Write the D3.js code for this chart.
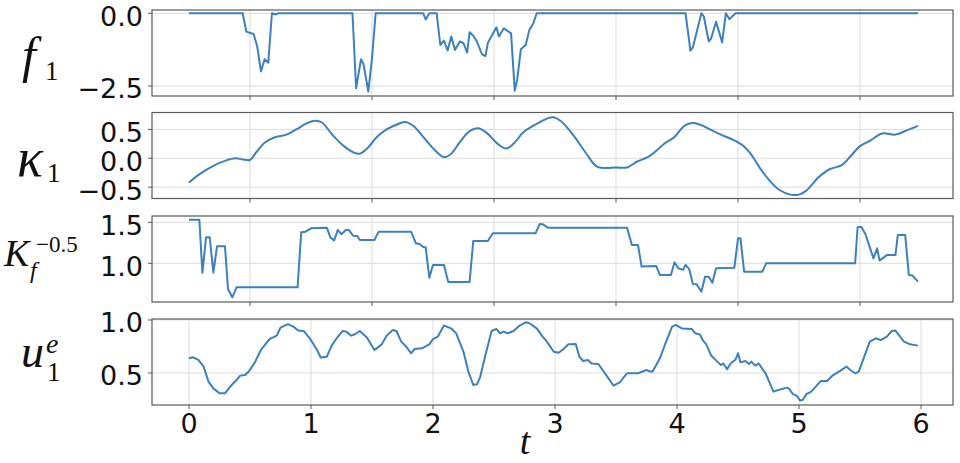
<!DOCTYPE html>
<html><head><meta charset="utf-8">
<script src="https://cdn.jsdelivr.net/npm/d3@7"></script>
<style>body{margin:0;background:#fff}svg{display:block}</style>
</head><body><svg id="c" width="960" height="463"></svg>
<script>
// ---- data (t, value) ----
const f1Data = [[0,0],[0.44,0],[0.47,-0.63],[0.53,-0.71],[0.56,-1.15],[0.59,-2.0],[0.62,-1.58],[0.65,-1.70],[0.68,0],[0.71,-0.04],[0.73,0],
 [1.34,0],[1.37,-2.58],[1.41,-1.58],[1.43,-1.74],[1.47,-2.69],[1.50,-1.55],[1.53,0],
 [1.92,0],[1.94,-0.21],[1.97,0],[2.03,0],[2.06,-1.09],[2.09,-0.94],[2.12,-1.28],[2.15,-0.80],[2.18,-1.26],[2.22,-0.97],[2.25,-1.03],[2.28,-1.35],[2.30,-0.65],[2.33,-0.77],[2.36,-0.97],[2.40,-1.40],[2.43,-1.47],[2.45,-1.01],[2.52,-0.48],[2.54,-0.80],[2.58,-0.52],[2.64,-0.69],[2.67,-2.66],[2.69,-2.29],[2.72,-1.24],[2.76,-1.09],[2.79,-0.57],[2.82,-0.37],[2.85,0],
 [4.07,0],[4.11,-1.28],[4.13,-1.17],[4.20,0],[4.22,-0.11],[4.26,-0.97],[4.28,-0.86],[4.32,-0.29],[4.37,-1.0],[4.40,0],[4.43,-0.2],[4.48,0],[5.975,0]];

const kappaData = [[0,-0.42],[0.09,-0.27],[0.20,-0.13],[0.30,-0.04],[0.38,0.0],[0.44,-0.02],[0.50,-0.03],[0.55,0.10],[0.62,0.27],[0.70,0.36],[0.80,0.41],[0.88,0.50],[0.96,0.60],[1.03,0.65],[1.09,0.62],[1.17,0.42],[1.27,0.21],[1.35,0.10],[1.40,0.08],[1.47,0.19],[1.54,0.37],[1.62,0.50],[1.70,0.58],[1.77,0.63],[1.84,0.56],[1.92,0.37],[2.02,0.13],[2.09,0.02],[2.15,0.08],[2.22,0.28],[2.30,0.47],[2.37,0.52],[2.44,0.44],[2.53,0.25],[2.60,0.17],[2.66,0.25],[2.74,0.45],[2.82,0.56],[2.88,0.63],[2.95,0.70],[2.99,0.71],[3.05,0.64],[3.15,0.40],[3.25,0.10],[3.34,-0.14],[3.41,-0.17],[3.50,-0.16],[3.59,-0.16],[3.67,-0.06],[3.76,0.02],[3.83,0.13],[3.90,0.26],[3.98,0.37],[4.06,0.56],[4.13,0.61],[4.19,0.58],[4.27,0.50],[4.36,0.41],[4.46,0.32],[4.54,0.22],[4.61,0.06],[4.68,-0.17],[4.76,-0.39],[4.84,-0.55],[4.93,-0.63],[5.00,-0.63],[5.06,-0.56],[5.16,-0.33],[5.25,-0.19],[5.35,-0.12],[5.42,0.03],[5.50,0.21],[5.58,0.30],[5.68,0.43],[5.79,0.41],[5.88,0.48],[5.975,0.56]];

const kfData = [[0,1.53],[0.085,1.53],[0.11,0.886],[0.14,1.317],[0.17,1.317],[0.20,0.886],[0.23,1.207],[0.295,1.207],[0.32,0.687],[0.355,0.585],[0.39,0.707],[0.89,0.707],[0.92,1.378],[0.955,1.386],[1.00,1.427],[1.13,1.435],[1.16,1.313],[1.19,1.28],[1.22,1.407],[1.25,1.354],[1.285,1.407],[1.31,1.407],[1.345,1.337],[1.38,1.333],[1.40,1.285],[1.52,1.285],[1.555,1.386],[1.82,1.386],[1.86,1.244],[1.89,1.236],[1.92,1.20],[1.94,1.195],[1.97,0.825],[2.00,0.98],[2.09,0.98],[2.125,0.772],[2.30,0.772],[2.33,1.272],[2.45,1.272],[2.49,1.366],[2.84,1.366],[2.875,1.48],[2.90,1.476],[2.94,1.435],[3.59,1.435],[3.63,1.224],[3.68,1.224],[3.71,0.96],[3.83,0.967],[3.86,0.858],[3.95,0.858],[3.98,1.012],[4.01,0.94],[4.05,0.92],[4.07,0.98],[4.10,0.93],[4.13,0.748],[4.16,0.744],[4.20,0.655],[4.23,0.837],[4.26,0.837],[4.29,0.764],[4.32,0.94],[4.47,0.947],[4.50,1.305],[4.52,1.305],[4.55,0.898],[4.70,0.898],[4.73,1.0],[5.46,1.0],[5.48,1.44],[5.51,1.447],[5.545,1.354],[5.61,1.06],[5.64,1.183],[5.66,1.033],[5.72,1.10],[5.79,1.10],[5.81,1.346],[5.87,1.346],[5.90,0.858],[5.93,0.85],[5.975,0.776]];

const ueData = [[0,0.638],[0.035,0.648],[0.077,0.623],[0.12,0.56],[0.16,0.418],[0.20,0.355],[0.25,0.308],[0.295,0.308],[0.35,0.387],[0.39,0.434],[0.42,0.475],[0.46,0.48],[0.49,0.513],[0.54,0.60],[0.59,0.717],[0.66,0.82],[0.72,0.852],[0.75,0.928],[0.81,0.96],[0.855,0.937],[0.895,0.90],[0.94,0.896],[0.99,0.827],[1.05,0.717],[1.08,0.645],[1.13,0.654],[1.17,0.758],[1.21,0.827],[1.26,0.896],[1.29,0.89],[1.33,0.852],[1.36,0.865],[1.40,0.896],[1.46,0.833],[1.52,0.717],[1.58,0.77],[1.62,0.852],[1.67,0.905],[1.70,0.896],[1.74,0.796],[1.78,0.748],[1.82,0.686],[1.85,0.726],[1.91,0.733],[1.97,0.77],[2.00,0.82],[2.04,0.843],[2.09,0.947],[2.15,0.92],[2.19,0.874],[2.25,0.70],[2.29,0.513],[2.33,0.387],[2.36,0.393],[2.385,0.456],[2.43,0.67],[2.48,0.896],[2.52,0.915],[2.55,0.874],[2.58,0.89],[2.61,0.874],[2.66,0.896],[2.71,0.947],[2.76,0.978],[2.79,0.969],[2.85,0.92],[2.90,0.84],[2.93,0.80],[2.99,0.70],[3.03,0.69],[3.07,0.726],[3.11,0.77],[3.14,0.77],[3.17,0.773],[3.20,0.654],[3.23,0.613],[3.27,0.623],[3.30,0.59],[3.355,0.585],[3.41,0.497],[3.48,0.38],[3.53,0.412],[3.59,0.497],[3.68,0.497],[3.75,0.528],[3.78,0.513],[3.80,0.513],[3.86,0.638],[3.90,0.764],[3.96,0.937],[3.99,0.953],[4.04,0.92],[4.12,0.915],[4.15,0.874],[4.19,0.86],[4.21,0.81],[4.24,0.77],[4.28,0.664],[4.33,0.607],[4.36,0.575],[4.38,0.59],[4.41,0.535],[4.44,0.59],[4.48,0.628],[4.50,0.686],[4.52,0.60],[4.56,0.613],[4.59,0.585],[4.61,0.607],[4.64,0.57],[4.67,0.59],[4.73,0.487],[4.79,0.324],[4.83,0.34],[4.90,0.362],[4.92,0.349],[4.95,0.30],[4.98,0.286],[5.01,0.239],[5.03,0.245],[5.06,0.30],[5.10,0.324],[5.18,0.425],[5.23,0.425],[5.28,0.48],[5.34,0.522],[5.39,0.56],[5.42,0.528],[5.46,0.497],[5.49,0.513],[5.54,0.67],[5.58,0.796],[5.63,0.827],[5.67,0.81],[5.72,0.843],[5.76,0.896],[5.79,0.90],[5.86,0.796],[5.91,0.77],[5.975,0.758]];

const topXTicks = [0.5,1.5,2.5,3.5,4.5,5.5];
const bottomXTicks = [0,1,2,3,4,5,6];
const f1Ticks = [0.0,-2.5];
const kappaTicks = [0.5,0.0,-0.5];
const kfTicks = [1.5,1.0];
const ueTicks = [1.0,0.5];

// ---- layout ----
const svg = d3.select('#c');
const L = 152, R = 953, H = 86;
const x = d3.scaleLinear().domain([-0.303, 6.262]).range([L, R]);
const lineColor = '#3a80c2', gridColor = '#dcdcdc', spineColor = '#5a5a5a';
const fmt = d3.format('.1f');

const panels = [
  {data:f1Data, top:10, dom:[-2.844,0.1135], yt:f1Ticks, xt:topXTicks, lab:false, curve:d3.curveLinear},
  {data:kappaData, top:112.5, dom:[-0.697,0.793], yt:kappaTicks, xt:topXTicks, lab:false, curve:d3.curveCatmullRom},
  {data:kfData, top:216, dom:[0.528,1.577], yt:kfTicks, xt:topXTicks, lab:false, curve:d3.curveLinear},
  {data:ueData, top:319, dom:[0.198,1.009], yt:ueTicks, xt:bottomXTicks, lab:true, curve:d3.curveLinear}
];

panels.forEach(p => {
  const y = d3.scaleLinear().domain(p.dom).range([p.top + H, p.top]);
  const g = svg.append('g');
  g.selectAll('.gx').data(p.xt).join('line')
    .attr('x1', d => x(d)).attr('x2', d => x(d))
    .attr('y1', p.top).attr('y2', p.top + H)
    .attr('stroke', gridColor).attr('stroke-width', 1);
  g.selectAll('.gy').data(p.yt).join('line')
    .attr('x1', L).attr('x2', R)
    .attr('y1', d => y(d)).attr('y2', d => y(d))
    .attr('stroke', gridColor).attr('stroke-width', 1);
  g.append('path').datum(p.data)
    .attr('fill', 'none').attr('stroke', lineColor).attr('stroke-width', 2)
    .attr('stroke-linejoin', 'round')
    .attr('d', d3.line().x(d => x(d[0])).y(d => y(d[1])).curve(p.curve));
  g.append('rect').attr('x', L).attr('y', p.top).attr('width', R - L).attr('height', H)
    .attr('fill', 'none').attr('stroke', spineColor).attr('stroke-width', 1.2);
  g.selectAll('.tx').data(p.xt).join('line')
    .attr('x1', d => x(d)).attr('x2', d => x(d))
    .attr('y1', p.top + H).attr('y2', p.top + H + 4)
    .attr('stroke', spineColor).attr('stroke-width', 1);
  g.selectAll('.ty').data(p.yt).join('line')
    .attr('x1', L - 4).attr('x2', L)
    .attr('y1', d => y(d)).attr('y2', d => y(d))
    .attr('stroke', spineColor).attr('stroke-width', 1);
  g.selectAll('.ly').data(p.yt).join('text')
    .attr('x', 143).attr('y', d => y(d) + 12.5)
    .attr('text-anchor', 'end')
    .attr('font-family', 'DejaVu Sans').attr('font-size', 27).attr('fill', '#111')
    .text(d => fmt(d));
  if (p.lab) {
    g.selectAll('.lx').data(p.xt).join('text')
      .attr('x', d => x(d)).attr('y', p.top + H + 28)
      .attr('text-anchor', 'middle')
      .attr('font-family', 'DejaVu Sans').attr('font-size', 27).attr('fill', '#111')
      .text(d => d3.format('d')(d));
  }
});

// ---- axis labels (math style) ----
const serif = 'Liberation Serif';
function txt(xp, yp, s, size, italic) {
  svg.append('text').attr('x', xp).attr('y', yp).attr('font-family', serif)
    .attr('font-size', size).attr('font-style', italic ? 'italic' : 'normal')
    .attr('fill', '#111').text(s);
}
txt(22, 72, 'f', 50, true); txt(45, 80, '1', 27, false);
txt(17, 176, 'κ', 54, true); txt(47, 182, '1', 27, false);
txt(4, 266, 'K', 38, true); txt(36, 252, '−0.5', 23, false); txt(30, 278, 'f', 24, true);
txt(21, 367, 'u', 46, true); txt(46, 353, 'e', 28, true); txt(47, 381, '1', 27, false);
svg.append('text').attr('x', 525).attr('y', 454).attr('text-anchor', 'middle')
  .attr('font-family', serif).attr('font-style', 'italic').attr('font-size', 38)
  .attr('fill', '#111').text('t');
</script>
</body></html>
